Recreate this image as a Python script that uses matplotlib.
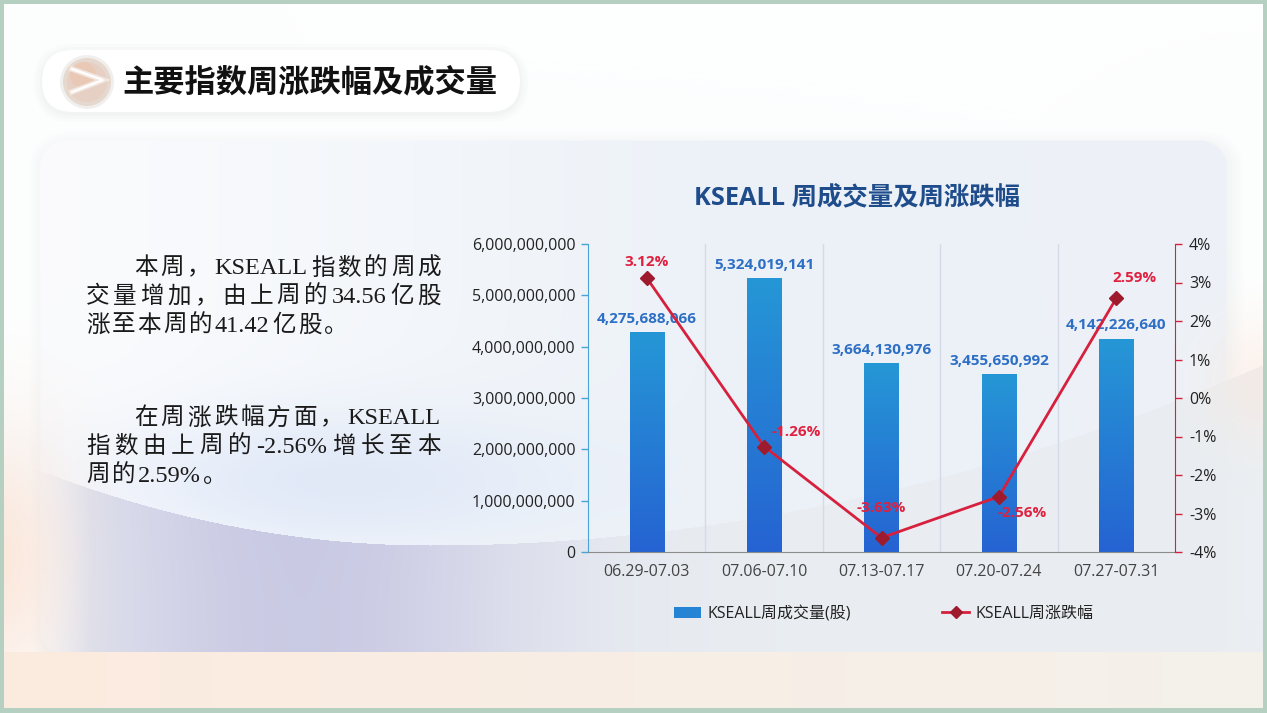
"""
KSEALL 周成交量及周涨跌幅 - slide recreation
"""

import numpy as np
import matplotlib.pyplot as plt
from matplotlib.patches import FancyBboxPatch, Patch, Circle
from matplotlib.lines import Line2D
from matplotlib.colors import LinearSegmentedColormap, to_rgb
from matplotlib.ticker import FuncFormatter

W, H = 1267, 713

# data
weeks = ['06.29-07.03', '07.06-07.10', '07.13-07.17', '07.20-07.24', '07.27-07.31']
volume = [4275688066, 5324019141, 3664130976, 3455650992, 4142226640]
change = [3.12, -1.26, -3.63, -2.56, 2.59]
vol_ticks = [0, 1e9, 2e9, 3e9, 4e9, 5e9, 6e9]
pct_ticks = [-4, -3, -2, -1, 0, 1, 2, 3, 4]

page_title = '主要指数周涨跌幅及成交量'
chart_title = 'KSEALL 周成交量及周涨跌幅'
vol_name = 'KSEALL周成交量(股)'
pct_name = 'KSEALL周涨跌幅'
para1 = ['本周，KSEALL指数的周成', '交量增加，由上周的34.56亿股', '涨至本周的41.42亿股。']
para2 = ['在周涨跌幅方面，KSEALL', '指数由上周的-2.56%增长至本', '周的2.59%。']

plt.rcParams['font.family'] = ['Open Sans', 'Noto Sans CJK SC', 'DejaVu Sans']

fig = plt.figure(figsize=(W / 100, H / 100), dpi=100)
renderer = fig.canvas.get_renderer()

# ---------- background ----------
bg = fig.add_axes([0, 0, 1, 1])
bg.set_xlim(0, W)
bg.set_ylim(H, 0)
bg.axis('off')

yy, xx = np.mgrid[0:H, 0:W].astype(float)
img = np.ones((H, W, 3)) * np.array(to_rgb('#fdfefe'))


def blend(img, mask, color):
    mask = np.clip(mask, 0, 1)[..., None]
    return img * (1 - mask) + np.array(to_rgb(color)) * mask


def rrect_mask(x0, y0, x1, y1, r, soft=2.0):
    cx, cy = (x0 + x1) / 2, (y0 + y1) / 2
    hx, hy = (x1 - x0) / 2 - r, (y1 - y0) / 2 - r
    qx = np.abs(xx - cx) - hx
    qy = np.abs(yy - cy) - hy
    d = np.hypot(np.maximum(qx, 0), np.maximum(qy, 0)) + np.minimum(np.maximum(qx, qy), 0) - r
    return np.clip(0.5 - d / soft, 0, 1)


# panel shadow + panel
img = blend(img, rrect_mask(36, 138, 1236, 664, 30, soft=18) * 0.35, '#dfe3e6')
panel = rrect_mask(40, 140, 1226, 655, 26)
t = np.clip((xx - 80) / 620, 0, 1)
panel_col = (1 - t[..., None]) * np.array(to_rgb('#fafbfd')) + t[..., None] * np.array(to_rgb('#edf2f8'))
img = img * (1 - panel[..., None]) + panel_col * panel[..., None]

# soft blue glow under the text
img = blend(img, np.exp(-((xx - 330) / 230) ** 2 - ((yy - 480) / 70) ** 2) * 0.45, '#c9d8f4')

# curved lower band
yc = np.where(xx < 430, 545 - 0.00049 * (xx - 430) ** 2, 545 - 0.00026 * (xx - 430) ** 2)
band = ((yy > yc) & (yy < 652)).astype(float) * np.clip((xx - 30) / 60, 0, 1)
lav = np.exp(-((xx - 300) / 230) ** 2)
band_col = lav[..., None] * np.array(to_rgb('#c5c5e1')) + (1 - lav[..., None]) * np.array(to_rgb('#e9edf1'))
img = img * (1 - band[..., None] * 0.9) + band_col * band[..., None] * 0.9

# peach accents
img = blend(img, np.exp(-((xx - 0) / 70) ** 2 - ((yy - 560) / 130) ** 2) * 0.8, '#fbe4d6')
strip = ((yy >= 652) & (yy < 708)).astype(float)
s = np.clip(xx / W, 0, 1)
strip_col = (1 - s[..., None]) * np.array(to_rgb('#fcebdf')) + s[..., None] * np.array(to_rgb('#f4f1eb'))
img = img * (1 - strip[..., None]) + strip_col * strip[..., None]
img = blend(img, np.exp(-((xx - 1267) / 60) ** 2 - ((yy - 380) / 60) ** 2) * 0.5, '#fbe6da')

# outer frame
frame = ((xx < 4) | (xx >= W - 4) | (yy < 4) | (yy >= H - 5)).astype(float)
img = blend(img, frame, '#b5cfc1')

bg.imshow(img, extent=(0, W, H, 0), aspect='auto', zorder=0, interpolation='bilinear')

# ---------- header pill ----------
for grow, a in [(8, 0.05), (5, 0.07), (2, 0.09)]:
    bg.add_patch(FancyBboxPatch((42 - grow, 50 - grow + 2), 478 + 2 * grow, 62 + 2 * grow,
                                boxstyle=f'round,pad=0,rounding_size={31 + grow}',
                                facecolor='#c9d6d0', edgecolor='none', alpha=a, zorder=1))
bg.add_patch(FancyBboxPatch((42, 50), 478, 62, boxstyle='round,pad=0,rounding_size=31',
                            facecolor='#ffffff', edgecolor='none', zorder=2))

# icon
for r, c, a in [(27, '#e4e1dc', 0.5), (24, '#e3d3c8', 0.8), (20, '#e6cbbb', 0.6)]:
    bg.add_patch(Circle((87, 82), r, facecolor=c, edgecolor='none', alpha=a, zorder=3))
bg.add_patch(Circle((83, 75), 13, facecolor='#eebfa6', edgecolor='none', alpha=0.45, zorder=3))
bg.plot([72, 103, 72], [69, 80, 92], color='#f3e6de', lw=4, solid_joinstyle='miter', zorder=4)
bg.plot([72, 103, 72], [69, 80, 92], color='#ffffff', lw=1.6, solid_joinstyle='miter', zorder=5)

bg.text(122, 82, page_title, fontsize=22.5, fontweight='bold', family='Noto Sans CJK SC',
        color='#111111', ha='left', va='center', zorder=5)


# ---------- body text ----------
def tokens(line):
    out = []
    for ch in line:
        if ord(ch) < 128 and out and out[-1][1]:
            out[-1][0] += ch
        else:
            out.append([ch, ord(ch) < 128])
    return out


def draw_line(line, x0, y, x1=None, adv=25.7):
    toks = tokens(line)
    items = []
    for s, asc in toks:
        if asc:
            txt = bg.text(0, y + 1, s, fontsize=17.5, family='Liberation Serif', color='#1a1a1a',
                          ha='left', va='center', zorder=5)
            w = txt.get_window_extent(renderer).width + 3
        else:
            txt = bg.text(0, y, s, fontsize=17, family='Noto Sans CJK SC', color='#1a1a1a',
                          ha='center', va='center', zorder=5)
            w = adv
        items.append((txt, asc, w))
    gap = 0
    if x1 is not None and len(items) > 1:
        gap = (x1 - x0 - sum(w for _, _, w in items)) / (len(items) - 1)
    x = x0
    for txt, asc, w in items:
        txt.set_x(x + 1.5 if asc else x + w / 2)
        x += w + gap


for para, y0 in [(para1, 268), (para2, 418)]:
    for i, line in enumerate(para):
        x0 = 133 if i == 0 else 85
        x1 = 442 if i < len(para) - 1 else None
        draw_line(line, x0, y0 + i * 28.5, x1)

# ---------- chart ----------
fig.text(857 / W, 1 - 198 / H, chart_title, fontsize=18.3, fontweight='bold',
         color='#1f4d8c', ha='center', va='center')

ax = fig.add_axes([588 / W, 161 / H, 587 / W, 308 / H])
ax.patch.set_alpha(0)
x = np.arange(len(weeks))

bar_cmap = LinearSegmentedColormap.from_list('bar', ['#2563d2', '#2597d6'])
grad = np.linspace(0, 1, 256).reshape(-1, 1)
bw = 0.29
for xi, v in zip(x, volume):
    ax.imshow(grad, extent=[xi - bw / 2, xi + bw / 2, 0, v], origin='lower',
              aspect='auto', cmap=bar_cmap, zorder=2)
    ax.annotate(f'{v:,}', (xi, v), xytext=(0, 14), textcoords='offset pixels',
                ha='center', va='center', fontsize=11, fontweight='bold',
                color='#2e6fc6', zorder=6)

for b in [0.5, 1.5, 2.5, 3.5]:
    ax.axvline(b, color='#d4dae7', lw=1, zorder=1)

ax.set_xlim(-0.5, len(weeks) - 0.5)
ax.set_ylim(0, 6e9)
ax.set_yticks(vol_ticks)
ax.yaxis.set_major_formatter(FuncFormatter(lambda v, p: f'{v:,.0f}'))
ax.set_xticks(x)
ax.set_xticklabels(weeks)
ax.tick_params(axis='x', length=0, pad=9, labelsize=11.5, labelcolor='#444444')
ax.tick_params(axis='y', length=5, width=1, color='#4aa3d6', pad=4, labelsize=11.5,
               labelcolor='#222222')
for side in ['top', 'right']:
    ax.spines[side].set_visible(False)
ax.spines['left'].set_color('#4aa3d6')
ax.spines['bottom'].set_color('#8c8c8c')

ax2 = ax.twinx()
ax2.plot(x, change, color='#d7203d', lw=2, marker='D', ms=7, mfc='#9e1b2e',
         mec='#9e1b2e', zorder=5)
label_offsets = [(0, 16), (32, 15), (0, 30), (23, -16), (18, 20)]
for xi, v, (dx, dy) in zip(x, change, label_offsets):
    ax2.annotate(f'{v:.2f}%', (xi, v), xytext=(dx, dy), textcoords='offset pixels',
                 ha='center', va='center', fontsize=11, fontweight='bold',
                 color='#e0203f', zorder=6)
ax2.set_ylim(-4, 4)
ax2.set_yticks(pct_ticks)
ax2.yaxis.set_major_formatter(FuncFormatter(lambda v, p: f'{v:.0f}%'))
ax2.tick_params(axis='y', length=5, width=1, color='#d7203d', pad=5, labelsize=11.5,
                labelcolor='#222222')
for side in ['top', 'left', 'bottom']:
    ax2.spines[side].set_visible(False)
ax2.spines['right'].set_color('#d7203d')

handles = [Patch(facecolor='#2584d4', edgecolor='none'),
           Line2D([], [], color='#d7203d', lw=2, marker='D', ms=6, mfc='#9e1b2e', mec='#9e1b2e')]
fig.legend(handles, [vol_name, pct_name], loc='center', bbox_to_anchor=(884 / W, 1 - 614 / H),
           ncol=2, frameon=False, fontsize=11.5, handlelength=1.7, handleheight=0.7,
           handletextpad=0.4, columnspacing=5.7, labelcolor='#222222')

fig.savefig('out.png', dpi=100)
